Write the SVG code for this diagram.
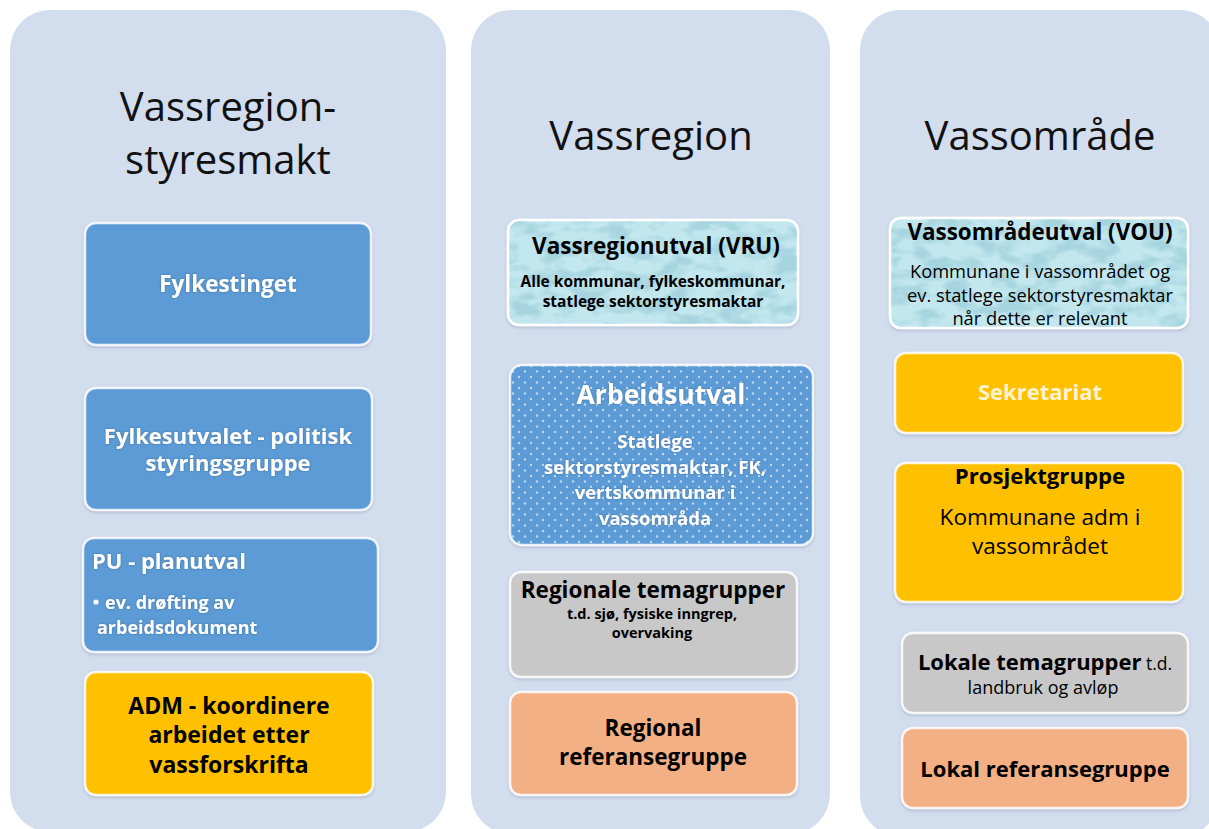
<svg xmlns="http://www.w3.org/2000/svg" width="1209" height="829" viewBox="0 0 1209 829">
<style>
  .panel{fill:#D2DDEE}
  .box{stroke:#FFFFFF;stroke-opacity:0.85;stroke-width:2.5}
  .blue{fill:#5B9BD5}
  .gold{fill:#FFC000}
  .gray{fill:#C8C8C8}
  .orange{fill:#F3B084}
  .h{font-family:"Open Sans","Noto Sans",sans-serif;font-size:40px;fill:#111;text-anchor:middle}
  .t{font-family:"Open Sans","Noto Sans",sans-serif;text-anchor:middle;fill:#000}
  .s{text-anchor:start}
  .b{font-weight:bold}
  .w{fill:#FFFFFF}
</style>
<defs>
  <filter id="shadow" x="-5%" y="-5%" width="110%" height="115%">
    <feDropShadow dx="0" dy="1.5" stdDeviation="1.5" flood-color="#6b7a90" flood-opacity="0.35"/>
  </filter>
  <filter id="tshadow" x="-5%" y="-20%" width="110%" height="140%">
    <feDropShadow dx="0" dy="0" stdDeviation="1.2" flood-color="#2a4f7a" flood-opacity="0.6"/>
  </filter>
  <filter id="water" x="0" y="0" width="100%" height="100%">
    <feTurbulence type="fractalNoise" baseFrequency="0.035 0.07" numOctaves="3" seed="7" result="n"/>
    <feColorMatrix in="n" type="matrix" values="0 0 0 0 0.38  0 0 0 0 0.66  0 0 0 0 0.74  0 0 0 -3.8 2.2" result="c"/>
    <feComposite in="c" in2="SourceAlpha" operator="in"/>
  </filter>
  <pattern id="dots" width="12" height="11" patternUnits="userSpaceOnUse">
    <rect width="12" height="11" fill="#5B9BD5"/>
    <circle cx="3" cy="3" r="1.2" fill="#FFFFFF" fill-opacity="0.6"/>
    <circle cx="9" cy="8.5" r="1.2" fill="#FFFFFF" fill-opacity="0.6"/>
  </pattern>
</defs>
<rect width="1209" height="829" fill="#FFFFFF"/>

<g id="panels">
  <rect class="panel" x="10" y="10" width="436" height="822" rx="40"/>
  <rect class="panel" x="471" y="10" width="359" height="824" rx="40"/>
  <rect class="panel" x="860" y="10" width="360" height="826" rx="40"/>
</g>

<g id="headings">
  <text class="h" x="228" y="121">Vassregion-</text>
  <text class="h" x="228" y="174">styresmakt</text>
  <text class="h" x="651" y="150">Vassregion</text>
  <text class="h" x="1040" y="150">Vassområde</text>
</g>

<g id="fylkestinget">
  <rect class="box blue" x="85" y="223" width="286" height="122" rx="11" filter="url(#shadow)"/>
  <text class="t b w" x="228" y="292" font-size="22.5" filter="url(#tshadow)">Fylkestinget</text>
</g>
<g id="fylkesutvalet">
  <rect class="box blue" x="85" y="388" width="287" height="122" rx="11" filter="url(#shadow)"/>
  <text class="t b w" x="228" y="444" font-size="22" filter="url(#tshadow)">Fylkesutvalet - politisk</text>
  <text class="t b w" x="228" y="471" font-size="22" filter="url(#tshadow)">styringsgruppe</text>
</g>
<g id="pu">
  <rect class="box blue" x="83" y="538" width="295" height="114" rx="11" filter="url(#shadow)"/>
  <text class="t b w s" x="92" y="569" font-size="22" filter="url(#tshadow)">PU - planutval</text>
  <circle cx="96" cy="602" r="2.6" fill="#FFFFFF"/>
  <text class="t b w s" x="105" y="609" font-size="18" filter="url(#tshadow)">ev. drøfting av</text>
  <text class="t b w s" x="97" y="634" font-size="18" filter="url(#tshadow)">arbeidsdokument</text>
</g>
<g id="adm">
  <rect class="box gold" x="85" y="672" width="288" height="123" rx="11" filter="url(#shadow)"/>
  <text class="t b" x="229" y="714" font-size="23">ADM - koordinere</text>
  <text class="t b" x="229" y="743" font-size="23">arbeidet etter</text>
  <text class="t b" x="229" y="773" font-size="23">vassforskrifta</text>
</g>

<g id="vru">
  <rect class="box" x="508" y="220" width="290" height="105" rx="11" fill="#C3E7EE" filter="url(#shadow)"/>
  <rect x="509" y="221" width="288" height="103" rx="10" fill="#C3E7EE" filter="url(#water)"/>
  <rect x="508" y="220" width="290" height="105" rx="11" fill="none" stroke="#FFFFFF" stroke-opacity="0.85" stroke-width="2.5"/>
  <text class="t b" x="656" y="254" font-size="22.5">Vassregionutval (VRU)</text>
  <text class="t b" x="653" y="287" font-size="15.5">Alle kommunar, fylkeskommunar,</text>
  <text class="t b" x="653" y="307" font-size="15.5">statlege sektorstyresmaktar</text>
</g>
<g id="arbeidsutval">
  <rect class="box" x="510" y="365" width="303" height="180" rx="12" fill="url(#dots)" filter="url(#shadow)"/>
  <text class="t b w" x="661" y="404" font-size="26.5" filter="url(#tshadow)">Arbeidsutval</text>
  <text class="t b w" x="655" y="448" font-size="18.5" filter="url(#tshadow)">Statlege</text>
  <text class="t b w" x="655" y="474" font-size="18.5" filter="url(#tshadow)">sektorstyresmaktar, FK,</text>
  <text class="t b w" x="655" y="499" font-size="18.5" filter="url(#tshadow)">vertskommunar i</text>
  <text class="t b w" x="655" y="525" font-size="18.5" filter="url(#tshadow)">vassområda</text>
</g>
<g id="regionale-temagrupper">
  <rect class="box gray" x="510" y="572" width="287" height="105" rx="11" filter="url(#shadow)"/>
  <text class="t b" x="653" y="598" font-size="22.5">Regionale temagrupper</text>
  <text class="t b" x="652" y="619" font-size="14.5">t.d. sjø, fysiske inngrep,</text>
  <text class="t b" x="652" y="638" font-size="14.5">overvaking</text>
</g>
<g id="regional-referansegruppe">
  <rect class="box orange" x="510" y="692" width="287" height="103" rx="11" filter="url(#shadow)"/>
  <text class="t b" x="653" y="736" font-size="22.5">Regional</text>
  <text class="t b" x="653" y="765" font-size="22.5">referansegruppe</text>
</g>

<g id="vou">
  <rect class="box" x="890" y="218" width="298" height="110" rx="11" fill="#C3E7EE" filter="url(#shadow)"/>
  <rect x="891" y="219" width="296" height="108" rx="10" fill="#C3E7EE" filter="url(#water)"/>
  <rect x="890" y="218" width="298" height="110" rx="11" fill="none" stroke="#FFFFFF" stroke-opacity="0.85" stroke-width="2.5"/>
  <text class="t b" x="1040" y="240" font-size="22.4">Vassområdeutval (VOU)</text>
  <text class="t" x="1040" y="278" font-size="18.3">Kommunane  i vassområdet og</text>
  <text class="t" x="1040" y="302" font-size="18.3">ev. statlege sektorstyresmaktar</text>
  <text class="t" x="1040" y="325" font-size="18.3">når dette er relevant</text>
</g>
<g id="sekretariat">
  <rect class="box gold" x="895" y="353" width="288" height="80" rx="11" filter="url(#shadow)"/>
  <text class="t b" x="1040" y="400" font-size="22" style="fill:#FFF3CF">Sekretariat</text>
</g>
<g id="prosjektgruppe">
  <rect class="box gold" x="895" y="463" width="288" height="139" rx="11" filter="url(#shadow)"/>
  <text class="t b" x="1040" y="484" font-size="22.2">Prosjektgruppe</text>
  <text class="t" x="1040" y="525" font-size="22.6">Kommunane adm i</text>
  <text class="t" x="1040" y="554" font-size="22.6">vassområdet</text>
</g>
<g id="lokale-temagrupper">
  <rect class="box gray" x="902" y="633" width="286" height="80" rx="11" filter="url(#shadow)"/>
  <text class="t" x="1045" y="670"><tspan class="b" font-size="22">Lokale temagrupper</tspan><tspan font-size="17.5"> t.d.</tspan></text>
  <text class="t" x="1043" y="694" font-size="18">landbruk og avløp</text>
</g>
<g id="lokal-referansegruppe">
  <rect class="box orange" x="902" y="728" width="286" height="80" rx="11" filter="url(#shadow)"/>
  <text class="t b" x="1045" y="777" font-size="22">Lokal referansegruppe</text>
</g>

<g id="connectors"/>
</svg>
